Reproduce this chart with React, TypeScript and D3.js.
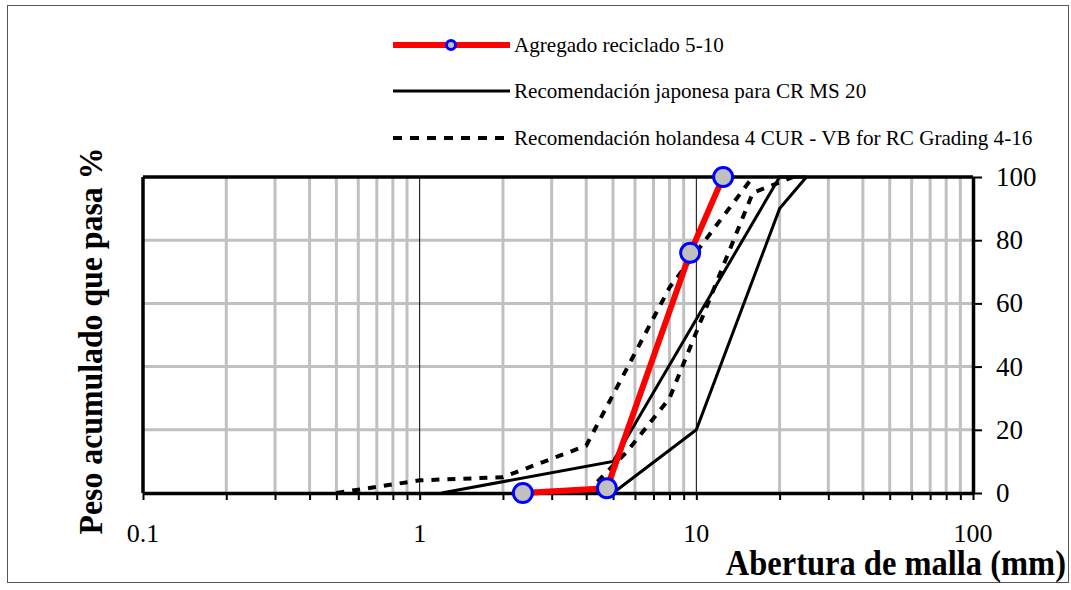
import React, { useEffect, useRef } from 'react';
import { select, scaleLog, scaleLinear, line, axisBottom, axisRight } from 'd3';

// series (x = abertura mm, y = % pasa)
const recicladoX = [2.36, 4.75, 9.5, 12.5];
const recicladoY = [0, 1.5, 76, 100];

const japonesaSupX = [1.2, 5, 20, 25];
const japonesaSupY = [0, 10, 100, 100];
const japonesaInfX = [5, 10, 20, 25];
const japonesaInfY = [0, 20, 90, 100];

const holandesaSupX = [0.5, 1, 2, 4, 8, 16];
const holandesaSupY = [0, 4, 5, 15, 65, 100];
const holandesaInfX = [4, 5.6, 8, 16, 22.4];
const holandesaInfY = [0, 13, 30, 95, 100];

const xMajor = [0.1, 1, 10, 100];
const xMinor = [0.2, 0.3, 0.4, 0.5, 0.6, 0.7, 0.8, 0.9, 2, 3, 4, 5, 6, 7, 8, 9, 20, 30, 40, 50, 60, 70, 80, 90];
const yTicks = [0, 20, 40, 60, 80, 100];

const legendLabels = [
    'Agregado reciclado 5-10',
    'Recomendación japonesa para CR MS 20',
    'Recomendación holandesa 4 CUR - VB for RC Grading 4-16',
];

const serif = '"Liberation Serif", "Times New Roman", serif';

const App = () => {
    const svgRef = useRef<SVGSVGElement>(null);

    useEffect(() => {
        const svg = select(svgRef.current);
        svg.selectAll('*').remove();
        const width = 1071;
        const height = 590;
        svg.attr('width', width).attr('height', height);

        const left = 143, right = 973, top = 177, bottom = 493;

        const xScale = scaleLog().domain([0.1, 100]).range([left, right]);
        const yScale = scaleLinear().domain([0, 100]).range([bottom, top]);

        // outer frame
        svg.append('rect')
            .attr('x', 7.5).attr('y', 5.5)
            .attr('width', 1061).attr('height', 577)
            .attr('fill', 'white')
            .attr('stroke', '#555').attr('stroke-width', 1);

        // gridlines
        const grid = svg.append('g');
        grid.selectAll('.vminor')
            .data(xMinor)
            .join('line')
            .attr('x1', d => xScale(d)).attr('x2', d => xScale(d))
            .attr('y1', top).attr('y2', bottom)
            .attr('stroke', '#c0c0c0').attr('stroke-width', 3);
        grid.selectAll('.hgrid')
            .data(yTicks.slice(1, -1))
            .join('line')
            .attr('x1', left).attr('x2', right)
            .attr('y1', d => yScale(d)).attr('y2', d => yScale(d))
            .attr('stroke', '#c0c0c0').attr('stroke-width', 3);
        grid.selectAll('.vmajor')
            .data([1, 10])
            .join('line')
            .attr('x1', d => xScale(d)).attr('x2', d => xScale(d))
            .attr('y1', top).attr('y2', bottom)
            .attr('stroke', 'black').attr('stroke-width', 1);

        // axes
        const xAxis = axisBottom(xScale)
            .tickValues([...xMajor, ...xMinor])
            .tickFormat(() => '')
            .tickSizeInner(7)
            .tickSizeOuter(0);
        const gx = svg.append('g')
            .attr('transform', `translate(0,${bottom})`)
            .call(xAxis);
        gx.select('.domain').attr('stroke-width', 3.5);
        gx.selectAll('.tick line').attr('stroke-width', 2);

        const yAxis = axisRight(yScale)
            .tickValues(yTicks)
            .tickFormat(() => '')
            .tickSizeInner(9)
            .tickSizeOuter(0);
        const gy = svg.append('g')
            .attr('transform', `translate(${right},0)`)
            .call(yAxis);
        gy.select('.domain').attr('stroke-width', 3.5);
        gy.selectAll('.tick line').attr('stroke-width', 2);

        svg.append('line')
            .attr('x1', left).attr('x2', right)
            .attr('y1', top).attr('y2', top)
            .attr('stroke', 'black').attr('stroke-width', 3.5);
        svg.append('line')
            .attr('x1', left).attr('x2', left)
            .attr('y1', top).attr('y2', bottom)
            .attr('stroke', 'black').attr('stroke-width', 3.5);

        // tick labels
        svg.selectAll('.xlab')
            .data(xMajor)
            .join('text')
            .attr('x', d => xScale(d))
            .attr('y', 542)
            .attr('text-anchor', 'middle')
            .attr('font-family', serif)
            .attr('font-size', 26)
            .text(d => String(d));
        svg.selectAll('.ylab')
            .data(yTicks)
            .join('text')
            .attr('x', 996)
            .attr('y', d => yScale(d) + 9)
            .attr('font-family', serif)
            .attr('font-size', 27)
            .text(d => String(d));

        // axis titles (slightly stretched vertically like the original)
        svg.append('text')
            .attr('transform', 'translate(1066,575) scale(1,1.1)')
            .attr('text-anchor', 'end')
            .attr('font-family', serif)
            .attr('font-weight', 'bold')
            .attr('font-size', 32.5)
            .text('Abertura de malla (mm)');
        svg.append('text')
            .attr('transform', 'translate(102,341) rotate(-90) scale(1,1.07)')
            .attr('text-anchor', 'middle')
            .attr('font-family', serif)
            .attr('font-weight', 'bold')
            .attr('font-size', 31.8)
            .text('Peso acumulado que pasa %');

        // series
        const path = line<[number, number]>()
            .x(d => xScale(d[0]))
            .y(d => yScale(d[1]));
        const zip = (xs: number[], ys: number[]) => xs.map((x, i) => [x, ys[i]] as [number, number]);

        [zip(holandesaSupX, holandesaSupY), zip(holandesaInfX, holandesaInfY)].forEach(pts => {
            svg.append('path')
                .attr('d', path(pts))
                .attr('fill', 'none')
                .attr('stroke', 'black')
                .attr('stroke-width', 4)
                .attr('stroke-dasharray', '8,8');
        });
        [zip(japonesaSupX, japonesaSupY), zip(japonesaInfX, japonesaInfY)].forEach(pts => {
            svg.append('path')
                .attr('d', path(pts))
                .attr('fill', 'none')
                .attr('stroke', 'black')
                .attr('stroke-width', 3)
                .attr('stroke-linejoin', 'miter');
        });
        const reciclado = zip(recicladoX, recicladoY);
        svg.append('path')
            .attr('d', path(reciclado))
            .attr('fill', 'none')
            .attr('stroke', 'red')
            .attr('stroke-width', 6);
        svg.selectAll('.marker')
            .data(reciclado)
            .join('circle')
            .attr('cx', d => xScale(d[0]))
            .attr('cy', d => yScale(d[1]))
            .attr('r', 9.5)
            .attr('fill', '#c0c0c0')
            .attr('stroke', '#0000ff')
            .attr('stroke-width', 3);

        // legend
        const legendY = [45, 91, 138];
        const lg = svg.append('g');
        lg.append('line')
            .attr('x1', 393).attr('x2', 510)
            .attr('y1', legendY[0]).attr('y2', legendY[0])
            .attr('stroke', 'red').attr('stroke-width', 6);
        lg.append('circle')
            .attr('cx', 451).attr('cy', legendY[0]).attr('r', 4.5)
            .attr('fill', '#c0c0c0').attr('stroke', '#0000ff').attr('stroke-width', 3);
        lg.append('line')
            .attr('x1', 393).attr('x2', 510)
            .attr('y1', legendY[1]).attr('y2', legendY[1])
            .attr('stroke', 'black').attr('stroke-width', 3);
        lg.append('line')
            .attr('x1', 393).attr('x2', 510)
            .attr('y1', legendY[2]).attr('y2', legendY[2])
            .attr('stroke', 'black').attr('stroke-width', 4)
            .attr('stroke-dasharray', '9,8');
        // text is a bit narrow in the original, squeeze it horizontally
        const sx = 0.96;
        lg.selectAll('.ltext')
            .data(legendLabels)
            .join('text')
            .attr('transform', (d, i) => `translate(514,${legendY[i] + 7}) scale(${sx},1)`)
            .attr('font-family', serif)
            .attr('font-size', 22)
            .text(d => d);
    }, []);

    return (
        <svg ref={svgRef} style={{ position: 'absolute', left: 0, top: 0, display: 'block' }} />
    );
};

export default App;
